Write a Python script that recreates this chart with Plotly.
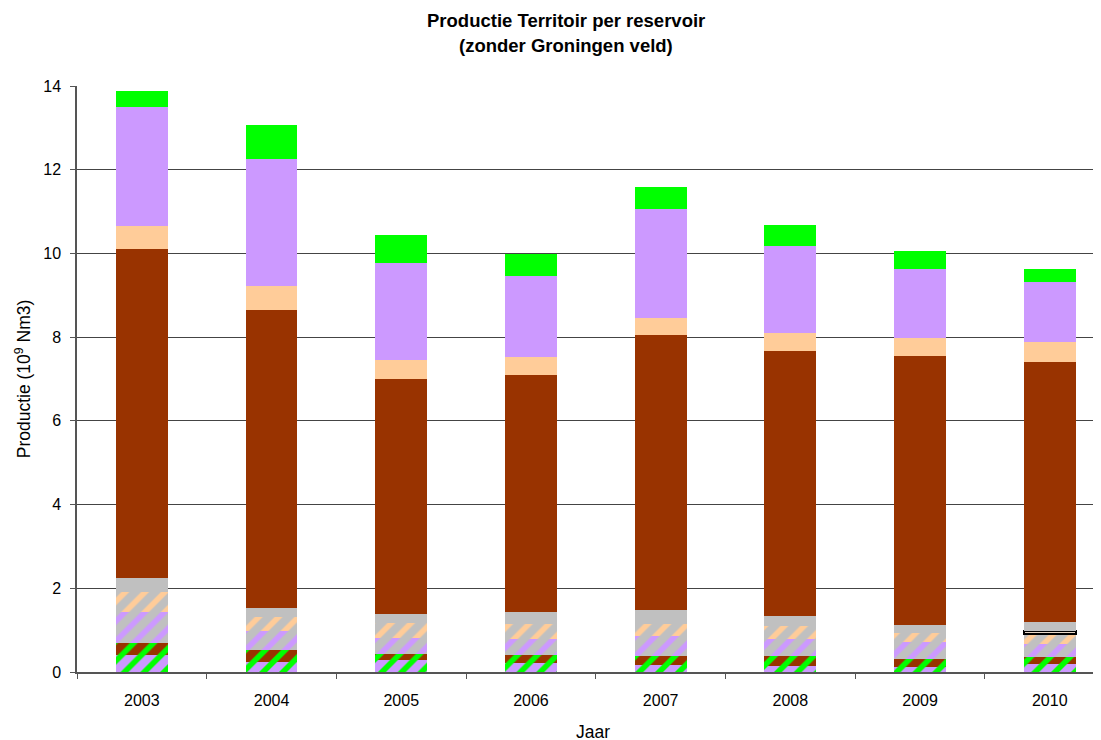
import plotly.graph_objects as go

years = ["2003", "2004", "2005", "2006", "2007", "2008", "2009", "2010"]

# stacked segments, bottom to top (10^9 Nm3)
purple_green_hatch = [0.41, 0.24, 0.29, 0.22, 0.17, 0.14, 0.13, 0.19]
brown_green_hatch = [0.28, 0.29, 0.14, 0.19, 0.21, 0.24, 0.18, 0.16]
grey_purple_hatch = [0.75, 0.45, 0.39, 0.37, 0.48, 0.41, 0.41, 0.33]
grey_peach_hatch = [0.48, 0.34, 0.34, 0.37, 0.29, 0.31, 0.22, 0.22]
outlined = [0, 0, 0, 0, 0, 0, 0, 0.08]
grey_plain = [0.32, 0.21, 0.22, 0.28, 0.33, 0.24, 0.18, 0.22]
brown_plain = [7.86, 7.12, 5.61, 5.66, 6.56, 6.33, 6.42, 6.20]
peach_plain = [0.55, 0.57, 0.46, 0.43, 0.41, 0.42, 0.43, 0.48]
purple_plain = [2.84, 3.04, 2.31, 1.93, 2.60, 2.08, 1.67, 1.43]
green_plain = [0.38, 0.81, 0.69, 0.53, 0.53, 0.50, 0.41, 0.33]

GREEN = "#00FF00"
PURPLE = "#CC99FF"
PEACH = "#FFCC99"
BROWN = "#993300"
GREY = "#C0C0C0"

fig = go.Figure()


def hatched(vals, bg, fg, name):
    fig.add_trace(go.Bar(
        x=years, y=vals, name=name,
        marker=dict(color=bg, line=dict(width=0),
                    pattern=dict(shape="/", bgcolor=bg, fgcolor=fg,
                                 size=14, solidity=0.4, fillmode="replace")),
        hoverinfo="y",
    ))


def solid(vals, color, name):
    fig.add_trace(go.Bar(
        x=years, y=vals, name=name,
        marker=dict(color=color, line=dict(width=0)),
        hoverinfo="y",
    ))


hatched(purple_green_hatch, PURPLE, GREEN, "a")
hatched(brown_green_hatch, BROWN, GREEN, "b")
hatched(grey_purple_hatch, GREY, PURPLE, "c")
hatched(grey_peach_hatch, GREY, PEACH, "d")
fig.add_trace(go.Bar(
    x=years, y=outlined, name="e",
    marker=dict(color="#E8D8C8",
                line=dict(color="black", width=[0, 0, 0, 0, 0, 0, 0, 1.8])),
    hoverinfo="y",
))
solid(grey_plain, GREY, "f")
solid(brown_plain, BROWN, "g")
solid(peach_plain, PEACH, "h")
solid(purple_plain, PURPLE, "i")
solid(green_plain, GREEN, "j")

TITLE_FONT = dict(family="Liberation Sans, Arial", size=18.5, color="black")

fig.update_layout(
    barmode="stack",
    bargap=0.6,
    width=1101, height=740,
    margin=dict(l=69, r=0, t=78, b=76),
    paper_bgcolor="white", plot_bgcolor="white",
    showlegend=False,
    font=dict(family="Liberation Sans, Arial", size=16, color="black"),
    annotations=[
        dict(text="<b>Productie Territoir per reservoir</b>", xref="paper", yref="paper",
             x=0.4738, y=1.112, xanchor="center", yanchor="middle",
             showarrow=False, font=TITLE_FONT),
        dict(text="<b>(zonder Groningen veld)</b>", xref="paper", yref="paper",
             x=0.4738, y=1.069, xanchor="center", yanchor="middle",
             showarrow=False, font=TITLE_FONT),
    ],
    xaxis=dict(
        type="category",
        range=[-0.5, 7.457],
        tickson="boundaries",
        ticks="outside", ticklen=5, tickcolor="#555555",
        showline=True, linecolor="#555555", linewidth=1.5,
        showgrid=False,
        automargin=False,
        tickfont=dict(size=16),
        ticklabelstandoff=13,
        title=dict(text="Jaar", font=dict(size=17.5), standoff=18),
    ),
    yaxis=dict(
        range=[0, 14], dtick=2,
        ticks="outside", ticklen=5, tickcolor="#555555",
        showline=True, linecolor="#555555", linewidth=1.5,
        showgrid=True, gridcolor="#444444", gridwidth=1,
        zeroline=False,
        automargin=False,
        tickfont=dict(size=16),
        ticklabelstandoff=6,
        title=dict(text="Productie (10<sup>9</sup> Nm3)", font=dict(size=17.5), standoff=8),
    ),
)

fig.write_html("out.html")
